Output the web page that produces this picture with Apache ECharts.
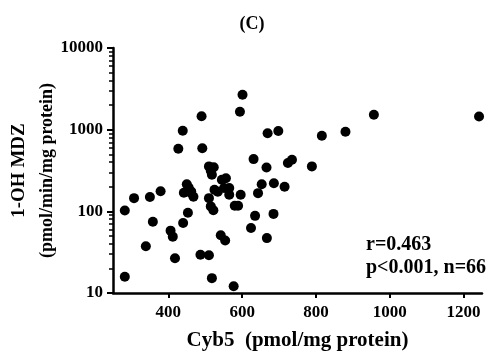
<!DOCTYPE html>
<html>
<head>
<meta charset="utf-8">
<script src="https://cdn.jsdelivr.net/npm/echarts@6/dist/echarts.min.js"></script>
<style>
  html, body { margin: 0; padding: 0; background: #fff; }
  #chart { width: 497px; height: 356px; }
</style>
</head>
<body>
<div id="chart"></div>
<script>
// Cyb5 content vs 1-OH MDZ formation
var cyb5 = [601, 594, 490, 439, 427, 492, 957, 1242, 669, 698, 816, 880,
    631, 666, 724, 735, 789, 510, 523, 518, 545, 556, 450, 653, 686, 715,
    643, 596, 565, 580, 589, 635, 685, 624, 667, 577, 307, 350, 379, 442,
    462, 468, 510, 525, 534, 565, 282, 515, 522, 453, 358, 440, 406, 412,
    542, 554, 339, 418, 487, 510, 282, 518, 551, 455, 515, 462];
var ohMdz = [2670, 1656, 1459, 970, 583, 592, 1521, 1452, 903, 965, 841, 942,
    436, 345, 390, 428, 355, 355, 347, 281, 244, 254, 215, 215, 221, 200,
    167, 160, 193, 117, 117, 88, 93, 62.5, 47, 12.1, 145, 150, 176, 169,
    167, 151, 145, 184, 174, 160, 102.6, 115, 103, 96, 74.6, 72, 58, 49,
    51, 44, 37.4, 26.7, 29.4, 29, 15.8, 15.2, 193, 195, 314, 175];
var xTicks = [400, 600, 800, 1000, 1200];
var yMinorTicks = [20, 30, 40, 50, 60, 70, 80, 90,
    200, 300, 400, 500, 600, 700, 800, 900,
    2000, 3000, 4000, 5000, 6000, 7000, 8000, 9000];

var points = [];
for (var i = 0; i < cyb5.length; i++) {
    points.push([cyb5[i], ohMdz[i]]);
}
// minor ticks go on a hidden linear axis that runs in log10 space
var minorLog = yMinorTicks.map(function (v) { return Math.log10(v); });

var font = 'Liberation Serif';
var myChart = echarts.init(document.getElementById('chart'));

var option = {
    animation: false,
    backgroundColor: '#fff',
    title: {
        text: '(C)',
        left: 247,
        top: 10,
        textAlign: 'center',
        textStyle: { fontFamily: font, fontWeight: 'bold', fontSize: 18, color: '#000' }
    },
    grid: { left: 113, right: 15, top: 48, bottom: 63, outerBoundsMode: 'none' },
    xAxis: {
        type: 'value',
        min: 250,
        max: 1250,
        name: 'Cyb5  (pmol/mg protein)',
        nameLocation: 'middle',
        nameGap: 37,
        nameMoveOverlap: false,
        nameTextStyle: { fontFamily: font, fontWeight: 'bold', fontSize: 21, color: '#000' },
        splitLine: { show: false },
        axisLine: { lineStyle: { color: '#000', width: 2.5 } },
        axisTick: { customValues: xTicks, length: 5, lineStyle: { color: '#000', width: 2 } },
        axisLabel: {
            customValues: xTicks, margin: 11,
            formatter: function (v) { return String(v); },
            fontFamily: font, fontWeight: 'bold', fontSize: 17, color: '#000'
        }
    },
    yAxis: [
        {
            type: 'log',
            logBase: 10,
            min: 10,
            max: 10000,
            name: '{a|1-OH MDZ}\n{b|(pmol/min/mg protein)}',
            nameLocation: 'middle',
            nameRotate: 90,
            nameGap: 52,
            nameMoveOverlap: false,
            nameTextStyle: {
                fontFamily: font, fontWeight: 'bold', color: '#000', align: 'center',
                rich: {
                    a: { fontFamily: font, fontWeight: 'bold', fontSize: 19, lineHeight: 28 },
                    b: { fontFamily: font, fontWeight: 'bold', fontSize: 18, lineHeight: 28 }
                }
            },
            splitLine: { show: false },
            axisLine: { lineStyle: { color: '#000', width: 2.5 } },
            axisTick: { show: true, length: 6, lineStyle: { color: '#000', width: 2 } },
            axisLabel: {
                margin: 10,
                formatter: function (v) { return String(v); },
                fontFamily: font, fontWeight: 'bold', fontSize: 17, color: '#000'
            }
        },
        {
            type: 'value',
            min: 1,
            max: 4,
            position: 'left',
            splitLine: { show: false },
            axisLine: { show: true, lineStyle: { color: 'rgba(0,0,0,0)' } },
            axisLabel: { show: false },
            axisTick: { show: true, customValues: minorLog, length: 4, lineStyle: { color: '#000', width: 1.5 } }
        }
    ],
    graphic: [
        {
            type: 'text',
            left: 366,
            top: 233,
            style: {
                text: 'r=0.463\np<0.001, n=66',
                font: 'bold 20px "Liberation Serif"',
                lineHeight: 23,
                fill: '#000'
            }
        }
    ],
    series: [
        {
            type: 'scatter',
            yAxisIndex: 0,
            data: points,
            symbol: 'circle',
            symbolSize: 10,
            itemStyle: { color: '#000', opacity: 1 }
        }
    ]
};
myChart.setOption(option);
</script>
</body>
</html>
